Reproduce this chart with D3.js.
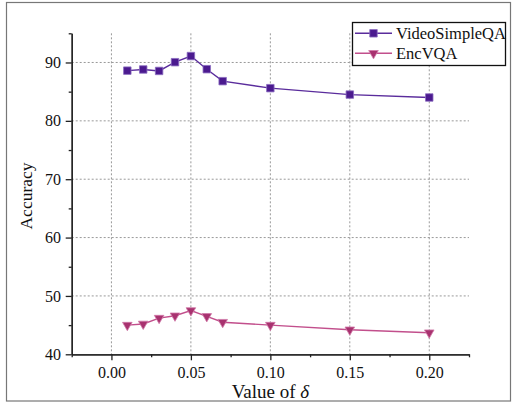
<!DOCTYPE html>
<html>
<head>
<meta charset="utf-8">
<title>Accuracy vs delta</title>
<script src="https://cdn.jsdelivr.net/npm/d3@7"></script>
<style>
  body { margin: 0; background: #fff; }
  svg { font-family: "Liberation Serif", "Times New Roman", serif; }
</style>
</head>
<body>
<div id="chart"></div>
<script>
// data
var deltas = [0.01, 0.02, 0.03, 0.04, 0.05, 0.06, 0.07, 0.10, 0.15, 0.20];
var videoSimpleQA = [88.6, 88.8, 88.55, 90.05, 91.1, 88.85, 86.8, 85.6, 84.5, 84.0];
var encVQA = [45.0, 45.2, 46.2, 46.6, 47.5, 46.5, 45.5, 45.0, 44.2, 43.7];
var seriesNames = ["VideoSimpleQA", "EncVQA"];
var xTicks = [0.00, 0.05, 0.10, 0.15, 0.20];
var yTicks = [40, 50, 60, 70, 80, 90];

var W = 513, H = 403;
var mLeft = 71.7, mRight = 469, mTop = 33.3, mBottom = 354.3;

var svg = d3.select("#chart").append("svg")
    .attr("width", W).attr("height", H);

// outer frame
svg.append("rect").attr("x", 6.5).attr("y", 2.5).attr("width", 504).attr("height", 398.5)
    .attr("fill", "none").attr("stroke", "#777").attr("stroke-width", 1.2);

var x = d3.scaleLinear().domain([-0.025, 0.225]).range([mLeft, mRight]);
var y = d3.scaleLinear().domain([40, 95]).range([mBottom, mTop]);

// dotted grid
var grid = svg.append("g").attr("stroke", "#999").attr("stroke-width", 1)
    .attr("stroke-dasharray", "2,2");
grid.selectAll(".vg").data(xTicks).enter().append("line")
    .attr("x1", d => x(d)).attr("x2", d => x(d))
    .attr("y1", mTop).attr("y2", mBottom);
grid.selectAll(".hg").data(yTicks.slice(1)).enter().append("line")
    .attr("x1", mLeft).attr("x2", mRight)
    .attr("y1", d => y(d)).attr("y2", d => y(d));

// axes
var xAxis = d3.axisBottom(x).tickValues(xTicks).tickFormat(d3.format(".2f")).tickSize(6).tickSizeOuter(0);
var xMinor = d3.axisBottom(x).tickValues([-0.025, 0.025, 0.075, 0.125, 0.175, 0.225]).tickFormat("").tickSize(3).tickSizeOuter(0);
var yAxis = d3.axisLeft(y).tickValues(yTicks).tickSize(6).tickSizeOuter(0);
var yMinor = d3.axisLeft(y).tickValues([45, 55, 65, 75, 85, 95]).tickFormat("").tickSize(3).tickSizeOuter(0);

function styleAxis(g) {
  g.selectAll("path, line").attr("stroke", "#222").attr("stroke-width", 1.3);
  g.selectAll("text").attr("fill", "#111").style("font-size", "16px")
    .style("font-family", "Liberation Serif, serif");
}

svg.append("g").attr("transform", "translate(0," + mBottom + ")").call(xMinor).call(styleAxis);
svg.append("g").attr("transform", "translate(0," + mBottom + ")").call(xAxis).call(styleAxis)
    .selectAll("text").attr("dy", "0.9em");
svg.append("g").attr("transform", "translate(" + mLeft + ",0)").call(yMinor).call(styleAxis);
svg.append("g").attr("transform", "translate(" + mLeft + ",0)").call(yAxis).call(styleAxis)
    .selectAll("text").attr("dx", "-0.1em");

// axis titles
var xt = svg.append("text").attr("x", (mLeft + mRight) / 2).attr("y", 397.5)
    .attr("text-anchor", "middle").style("font-size", "19px").attr("fill", "#111");
xt.append("tspan").text("Value of ");
xt.append("tspan").attr("font-style", "italic").text("δ");

svg.append("text").attr("transform", "translate(32," + 196 + ") rotate(-90)")
    .attr("text-anchor", "middle").style("font-size", "17.5px").attr("fill", "#111")
    .text("Accuracy");

// series
var colors = [
  { line: "#5a2c9c", fill: "#4b1a8f" },
  { line: "#c24f8c", fill: "#a8326f" }
];
var data = [videoSimpleQA, encVQA];
var line = d3.line().x((d, i) => x(deltas[i])).y(d => y(d));
var sq = d3.symbol().type(d3.symbolSquare).size(56);
var tri = d3.symbol().type(d3.symbolTriangle).size(40);

data.forEach(function (vals, k) {
  svg.append("path").datum(vals).attr("d", line)
    .attr("fill", "none").attr("stroke", colors[k].line).attr("stroke-width", 1.4);
  svg.selectAll(".m" + k).data(vals).enter().append("path")
    .attr("d", k === 0 ? sq : tri)
    .attr("transform", (d, i) => "translate(" + x(deltas[i]) + "," + y(d) + ")" + (k === 1 ? " rotate(180)" : ""))
    .attr("fill", colors[k].fill)
    .attr("stroke", k === 0 ? "#8a6cc0" : "#d07aa8").attr("stroke-width", 0.8);
});

// legend
var lg = svg.append("g");
lg.append("rect").attr("x", 352.5).attr("y", 22.5).attr("width", 153).attr("height", 43)
    .attr("fill", "#fff").attr("stroke", "#111").attr("stroke-width", 1.3);
seriesNames.forEach(function (name, k) {
  var ly = 33.3 + k * 20;
  lg.append("line").attr("x1", 355).attr("x2", 392).attr("y1", ly).attr("y2", ly)
    .attr("stroke", colors[k].line).attr("stroke-width", 1.4);
  lg.append("path").attr("d", k === 0 ? sq : tri)
    .attr("transform", "translate(373.5," + ly + ")" + (k === 1 ? " rotate(180)" : ""))
    .attr("fill", colors[k].fill)
    .attr("stroke", k === 0 ? "#8a6cc0" : "#d07aa8").attr("stroke-width", 0.8);
  lg.append("text").attr("x", 396).attr("y", ly + 6).style("font-size", "16.5px")
    .attr("fill", "#111").text(name);
});
</script>
</body>
</html>
